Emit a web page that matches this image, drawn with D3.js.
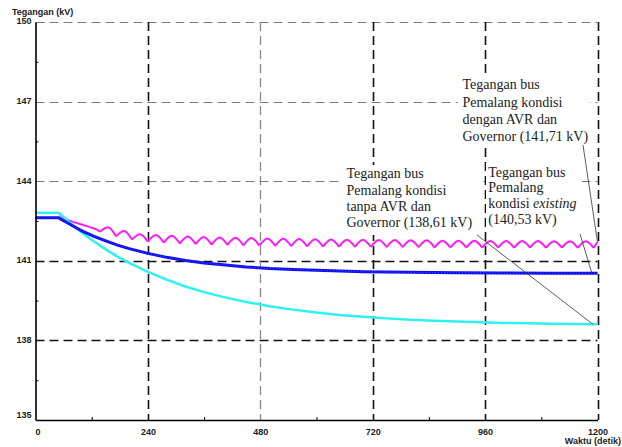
<!DOCTYPE html>
<html>
<head>
<meta charset="utf-8">
<script src="https://cdn.jsdelivr.net/npm/d3@7"></script>
<style>
  body { margin: 0; background: #fff; }
  svg { display: block; }
  .axis .tick text { font-family: 'Liberation Sans Narrow', 'Liberation Sans', Arial, sans-serif; font-weight: bold; font-size: 9px; fill: #222; }
  .axis-title { font-family: 'Liberation Sans Narrow', 'Liberation Sans', Arial, sans-serif; font-weight: bold; font-size: 9px; fill: #222; }
  .note { font-family: 'Liberation Serif', 'Times New Roman', serif; font-size: 14px; fill: #222; }
</style>
</head>
<body>
<svg id="chart" width="622" height="447"></svg>
<script>
// Tick values
const tickY = [135, 138, 141, 144, 147, 150];
const tickX = [0, 240, 480, 720, 960, 1200];
const minorY = [136.5, 139.5, 142.5, 145.5, 148.5];
const minorX = [120, 360, 600, 840, 1080];

// Bus voltage without AVR and governor (kV)
const cyanT = [0, 50, 55, 65, 80, 100, 125, 150, 175, 200, 240, 280, 320, 360, 400, 450, 500, 550, 600, 650, 700, 750, 800, 850, 900, 950, 1000, 1050, 1100, 1150, 1200];
const cyanV = [142.81, 142.81, 142.73, 142.57, 142.34, 142.05, 141.73, 141.43, 141.16, 140.92, 140.58, 140.29, 140.03, 139.82, 139.64, 139.45, 139.29, 139.16, 139.05, 138.96, 138.89, 138.83, 138.78, 138.74, 138.71, 138.68, 138.66, 138.645, 138.63, 138.62, 138.61];

// Bus voltage, existing condition (kV)
const blueT = [0, 50, 55, 65, 80, 100, 125, 150, 175, 200, 240, 280, 320, 360, 400, 450, 500, 550, 600, 700, 800, 900, 1000, 1100, 1200];
const blueV = [142.62, 142.62, 142.56, 142.46, 142.31, 142.12, 141.92, 141.75, 141.59, 141.46, 141.28, 141.13, 141.01, 140.92, 140.85, 140.77, 140.71, 140.67, 140.64, 140.59, 140.566, 140.55, 140.54, 140.535, 140.53];

// Bus voltage with AVR and governor (kV): initial drop, then regulated ripple
const magentaPreT = [0, 50, 58, 70, 85, 100, 115, 128];
const magentaPreV = [142.80, 142.80, 142.64, 142.53, 142.44, 142.36, 142.28, 142.20];
const magentaCuspT = [138, 172, 206, 240, 274, 308, 342, 376, 410, 444, 478, 512, 546, 580, 614, 648, 682, 716, 750, 784, 818, 852, 886, 920, 954, 988, 1022, 1056, 1090, 1124, 1158, 1192];
const magentaValley = [142.10, 141.92, 141.80, 141.72, 141.68, 141.65, 141.63, 141.61, 141.60, 141.58, 141.57, 141.56, 141.55, 141.54, 141.53, 141.53, 141.52, 141.52, 141.51, 141.51, 141.51, 141.50, 141.50, 141.50, 141.50, 141.50, 141.49, 141.50, 141.49, 141.50, 141.49, 141.49];
const magentaPeak = [142.26, 142.12, 142.00, 141.97, 141.94, 141.92, 141.90, 141.88, 141.87, 141.86, 141.84, 141.83, 141.82, 141.81, 141.80, 141.79, 141.79, 141.78, 141.78, 141.77, 141.77, 141.76, 141.76, 141.76, 141.75, 141.75, 141.75, 141.75, 141.74, 141.74, 141.74];
const magentaEnd = [1200, 141.71];

const svg = d3.select('#chart');

const x = d3.scaleLinear().domain([0, 1200]).range([35.5, 597.5]);
const y = d3.scaleLinear().domain([135, 150]).range([420, 22]);

// Grid lines
const grid = svg.append('g');
tickY.filter(v => v !== 135).forEach(v => {
  const dark = v === 141 || v === 138;
  grid.append('line')
    .attr('x1', x(0)).attr('x2', x(1200))
    .attr('y1', Math.round(y(v)) + 0.5).attr('y2', Math.round(y(v)) + 0.5)
    .attr('stroke', dark ? '#111' : '#7a7a7a')
    .attr('stroke-width', dark ? 1.6 : 1.2)
    .attr('stroke-dasharray', '9,5');
});
tickX.filter(v => v !== 0).forEach(v => {
  const light = v === 480;
  grid.append('line')
    .attr('x1', Math.round(x(v)) + 0.5).attr('x2', Math.round(x(v)) + 0.5)
    .attr('y1', y(150)).attr('y2', y(135))
    .attr('stroke', light ? '#8a8a8a' : '#111')
    .attr('stroke-width', light ? 1.3 : 1.6)
    .attr('stroke-dasharray', '9,5');
});

// Series
const line = d3.line().x(d => x(d[0])).y(d => y(d[1]));
const hump = d3.line().x(d => x(d[0])).y(d => y(d[1])).curve(d3.curveMonotoneX);

const prePts = magentaPreT.map((t, i) => [t, magentaPreV[i]]);
prePts.push([magentaCuspT[0], magentaValley[0]]);
let magentaD = line(prePts);
for (let k = 0; k < magentaPeak.length; k++) {
  const t0 = magentaCuspT[k], t1 = magentaCuspT[k + 1];
  magentaD += hump([[t0, magentaValley[k]], [(t0 + t1) / 2, magentaPeak[k]], [t1, magentaValley[k + 1]]]);
}
const last = magentaCuspT.length - 1;
magentaD += line([[magentaCuspT[last], magentaValley[last]], magentaEnd]);

svg.append('path')
  .attr('d', magentaD)
  .attr('fill', 'none')
  .attr('stroke', '#ff19ff')
  .attr('stroke-width', 2)
  .attr('stroke-linejoin', 'round');

svg.append('path')
  .attr('d', line(cyanT.map((t, i) => [t, cyanV[i]])))
  .attr('fill', 'none')
  .attr('stroke', '#2ef2f2')
  .attr('stroke-width', 2.5);

const bluePts = blueT.map((t, i) => [t, blueV[i]]);
svg.append('path')
  .attr('d', line(bluePts))
  .attr('fill', 'none')
  .attr('stroke', '#0c0cf5')
  .attr('stroke-width', 3);
svg.append('path')
  .attr('d', line(bluePts))
  .attr('fill', 'none')
  .attr('stroke', '#4a4aff')
  .attr('stroke-width', 1)
  .attr('stroke-dasharray', '1,2');

// Axes
const yAxis = svg.append('g').attr('class', 'axis')
  .attr('transform', 'translate(' + x(0) + ',0)')
  .call(d3.axisLeft(y).tickValues(tickY).tickSize(0).tickSizeOuter(0).tickPadding(4));
yAxis.selectAll('.tick text').attr('dy', d => d === 135 ? '-0.25em' : '0.2em');

const xAxis = svg.append('g').attr('class', 'axis')
  .attr('transform', 'translate(0,' + y(135) + ')')
  .call(d3.axisBottom(x).tickValues(tickX).tickFormat(d3.format('d')).tickSize(0).tickSizeOuter(0).tickPadding(9));
xAxis.selectAll('.tick text').attr('dx', d => d === 0 ? '2' : '0');

svg.append('g')
  .attr('transform', 'translate(' + x(0) + ',0)')
  .call(d3.axisLeft(y).tickValues(minorY).tickSize(-3).tickFormat(''))
  .call(g => g.select('.domain').remove());
svg.append('g')
  .attr('transform', 'translate(0,' + y(135) + ')')
  .call(d3.axisBottom(x).tickValues(minorX).tickSize(-3).tickFormat(''))
  .call(g => g.select('.domain').remove());

svg.selectAll('.axis .domain').attr('stroke', '#000').attr('stroke-width', 1.6);

svg.append('text').attr('class', 'axis-title').attr('x', 12).attr('y', 15).text('Tegangan (kV)');
svg.append('text').attr('class', 'axis-title').attr('x', 621).attr('y', 444).attr('text-anchor', 'end').text('Waktu (detik)');

// Callouts
const notes = [
  { box: [458, 76, 132, 70], x: 462.5, y: 89.3, dy: 17.2,
    lines: [['Tegangan bus'], ['Pemalang kondisi'], ['dengan AVR dan'], ['Governor (141,71 kV)']],
    from: [583, 145], to: [1200, 141.71] },
  { box: [343, 165, 136, 70], x: 346.5, y: 178.3, dy: 16.2,
    lines: [['Tegangan bus'], ['Pemalang kondisi'], ['tanpa AVR dan'], ['Governor (138,61 kV)']],
    from: [477, 235], to: [1190, 138.61] },
  { box: [486, 163, 96, 66], x: 488.3, y: 176.7, dy: 15.6,
    lines: [['Tegangan bus'], ['Pemalang'], ['kondisi ', 'existing'], ['(140,53 kV)']],
    from: [580, 234], to: [1188, 140.53] }
];

notes.forEach(n => {
  svg.append('rect')
    .attr('x', n.box[0]).attr('y', n.box[1]).attr('width', n.box[2]).attr('height', n.box[3])
    .attr('fill', '#fff');
  const t = svg.append('text').attr('class', 'note');
  n.lines.forEach((parts, i) => {
    parts.forEach((p, j) => {
      const s = t.append('tspan').text(p);
      if (j === 0) s.attr('x', n.x).attr('y', n.y + i * n.dy);
      if (j === 1) s.attr('font-style', 'italic');
    });
  });
});

notes.forEach(n => {
  svg.append('line')
    .attr('x1', n.from[0]).attr('y1', n.from[1])
    .attr('x2', x(n.to[0])).attr('y2', y(n.to[1]))
    .attr('stroke', '#333')
    .attr('stroke-width', 0.8);
});
</script>
</body>
</html>
